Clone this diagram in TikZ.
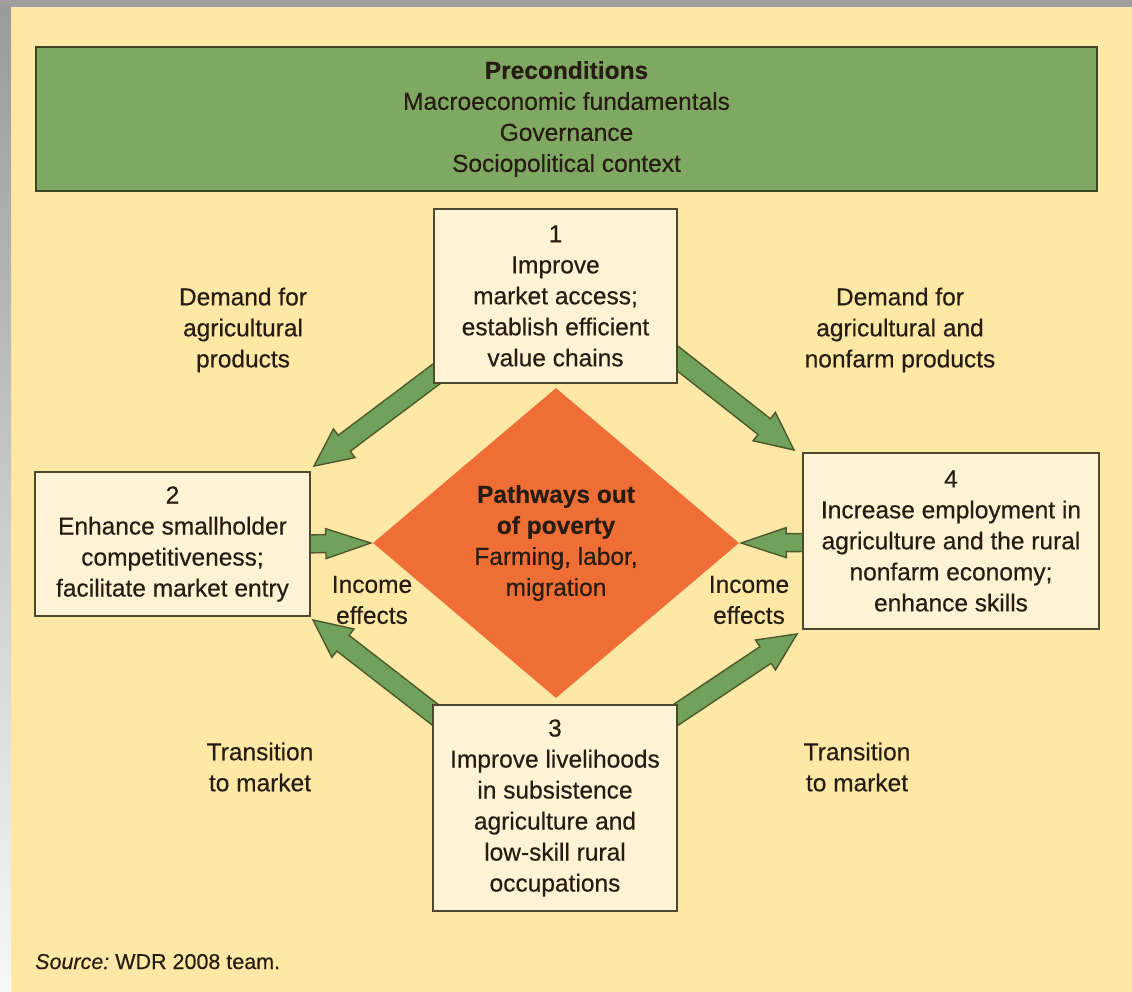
\documentclass[tikz,border=0pt]{standalone}
\usepackage{fontspec}
\setmainfont[FakeBold=0.35]{Liberation Sans}
\usetikzlibrary{calc,shapes.geometric}

\definecolor{bgyellow}{RGB}{254,232,166}
\definecolor{edgegrey}{RGB}{158,158,158}
\definecolor{pregreen}{RGB}{127,168,98}
\definecolor{preline}{RGB}{62,70,36}
\definecolor{cream}{RGB}{254,243,212}
\definecolor{boxline}{RGB}{78,72,46}
\definecolor{povorange}{RGB}{238,110,53}
\definecolor{arrowgreen}{RGB}{112,162,92}
\definecolor{arrowline}{RGB}{78,88,44}
\definecolor{ink}{RGB}{38,28,18}

\newcommand\dfont{\fontsize{24.5pt}{31pt}\selectfont}

% block arrow: tail, tip, shaft half width, head half width, head length
\newcommand\fatarrow[5]{%
  \coordinate (hb) at ($(#2)!#5!(#1)$);
  \draw[fat] ($(#1)!#3!90:(#2)$) -- ($(hb)!#3!90:(#2)$) -- ($(hb)!#4!90:(#2)$)
    -- (#2) -- ($(hb)!#4!-90:(#2)$) -- ($(hb)!#3!-90:(#2)$)
    -- ($(#1)!#3!-90:(#2)$) -- cycle;
}

\pgfdeclarelayer{bg}
\pgfdeclarelayer{back}
\pgfsetlayers{bg,back,main}

\begin{document}
\begin{tikzpicture}[x=1pt,y=-1pt,font=\dfont,text=ink,
  box/.style={draw=boxline,line width=1.8pt,fill=cream,align=center,inner sep=0pt},
  lbl/.style={align=center,inner sep=0pt},
  fat/.style={fill=arrowgreen,draw=arrowline,line width=1.4pt,line join=miter}]

\useasboundingbox (0,0) rectangle (1132,992);

% preconditions banner
\node[box,fill=pregreen,draw=preline,line width=2.2pt,
      minimum width=1061pt,minimum height=144pt] (pre) at (566.5,119)
  {\textbf{Preconditions}\\Macroeconomic fundamentals\\Governance\\Sociopolitical context};

% the four policy boxes
\node[box,minimum width=243pt,minimum height=174pt] (b1) at (555.5,296)
  {1\\Improve\\market access;\\establish efficient\\value chains};
\node[box,minimum width=275pt,minimum height=144pt] (b2) at (172.5,544)
  {2\\Enhance smallholder\\competitiveness;\\facilitate market entry};
\node[box,minimum width=244pt,minimum height=206pt] (b3) at (555,808)
  {3\\Improve livelihoods\\in subsistence\\agriculture and\\low-skill rural\\occupations};
\node[box,minimum width=296pt,minimum height=176pt] (b4) at (951,541)
  {4\\Increase employment in\\agriculture and the rural\\nonfarm economy;\\enhance skills};

% central diamond
\node[diamond,fill=povorange,minimum width=366pt,minimum height=310pt,
      inner sep=0pt,align=center] (pov) at (556,543)
  {\textbf{Pathways out}\\\textbf{of poverty}\\Farming, labor,\\migration};

% arrow labels
\node[lbl] (dl) at (243,330) {Demand for\\agricultural\\products};
\node[lbl] (dr) at (900,330) {Demand for\\agricultural and\\nonfarm products};
\node[lbl] (il) at (372,600) {Income\\effects};
\node[lbl] (ir) at (749,600) {Income\\effects};
\node[lbl] (tl) at (260,767) {Transition\\to market};
\node[lbl] (tr) at (857,767) {Transition\\to market};

\node[anchor=base west,inner sep=0pt,font=\fontsize{21.5pt}{26pt}\selectfont] (src)
  at (35,969) {\textit{Source:}\hspace{-2pt} WDR 2008 team.};

% background panel
\begin{pgfonlayer}{bg}
  \fill[bgyellow] (0,0) rectangle (1132,992);
  \shade[top color=black!40,bottom color=white!97!black] (0,0) rectangle (11,992);
  \fill[edgegrey] (0,0) rectangle (1132,7);
\end{pgfonlayer}

% connectors, tucked under the boxes
\begin{pgfonlayer}{back}
  \coordinate (t12) at ($(b1.south west)+(10,-15)$);
  \coordinate (h12) at ($(b2.north east)+(3,-5)$);
  \coordinate (t14) at ($(b1.south east)+(-10,-33)$);
  \coordinate (h14) at ($(b4.north west)+(-8,-2)$);
  \coordinate (t32) at ($(b3.north west)+(10,16)$);
  \coordinate (h32) at ($(b2.south east)+(2,3)$);
  \coordinate (t34) at ($(b3.north east)+(-10,16)$);
  \coordinate (h34) at ($(b4.south west)+(-5,4)$);
  \coordinate (t2p) at ($(b2.east)+(-10,0)$);
  \coordinate (h2p) at ($(pov.west)+(-2,0)$);
  \coordinate (t4p) at ($(b4.east)+(-100,0)$);
  \coordinate (h4p) at ($(pov.east)+(2,0)$);
  \fatarrow{t12}{h12}{10pt}{18pt}{38pt}
  \fatarrow{t14}{h14}{10pt}{18pt}{38pt}
  \fatarrow{t32}{h32}{10pt}{18pt}{38pt}
  \fatarrow{t34}{h34}{10pt}{18pt}{38pt}
  \fatarrow{t2p}{h2p}{9pt}{15pt}{45pt}
  \fatarrow{t4p}{h4p}{9pt}{15pt}{45pt}
\end{pgfonlayer}

\end{tikzpicture}
\end{document}
